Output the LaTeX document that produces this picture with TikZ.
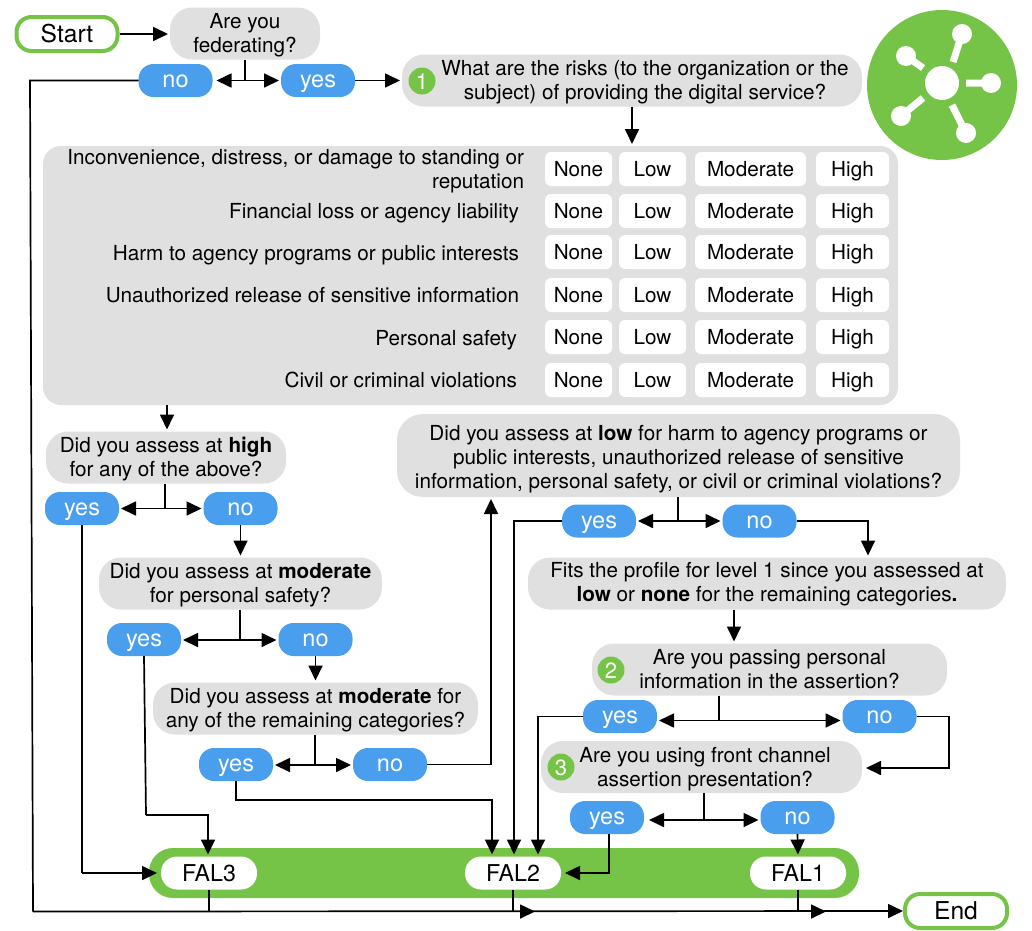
\documentclass[tikz,border=0pt]{standalone}
\usepackage{fontspec}
\setmainfont{TeX Gyre Heros}
\usetikzlibrary{arrows.meta}
\definecolor{fgreen}{HTML}{76C447}
\definecolor{fblue}{HTML}{4A9EEE}
\definecolor{fgray}{HTML}{E0E0E0}
\tikzset{
  every node/.style={inner sep=0pt,outer sep=0pt,text=black,font=\fontsize{20.7}{24}\selectfont},
  ln/.style={line width=1.7pt,draw=black},
  arr/.style={ln,-{Triangle[length=15pt,width=14pt]},shorten >=2pt},
  qbox/.style={fill=fgray,rounded corners=22pt,align=center,minimum height=52pt,text height=38pt,text depth=0pt},
  pill/.style={fill=fblue,rounded corners=15pt,text=white,minimum width=74pt,minimum height=33pt,text height=16pt,text depth=2pt,font=\fontsize{23.5}{26}\selectfont},
  opt/.style={fill=white,rounded corners=6pt,minimum height=34pt,text height=15pt,text depth=0pt},
  rowtext/.style={anchor=east,align=right,text height=15pt,text depth=0pt},
  fal/.style={fill=white,rounded corners=16pt,minimum width=96pt,minimum height=33pt,text height=16pt,text depth=0pt,font=\fontsize{23.2}{26}\selectfont},
  term/.style={draw=fgreen,line width=4pt,fill=white,rounded corners=15pt,text height=17pt,text depth=0pt,font=\fontsize{24.6}{26}\selectfont},
  num/.style={circle,fill=fgreen,text=white,minimum size=27pt,text height=16pt,text depth=0pt,font=\fontsize{22}{26}\selectfont},
}
\begin{document}
\begin{tikzpicture}[x=1pt,y=-1pt]
\useasboundingbox (0,0) rectangle (1032,930);
% icon
\fill[fgreen] (942,85) circle (75);
\fill[white] (942,83) circle (17) (962,34) circle (10) (906,56) circle (10) (991,83) circle (10) (901,116) circle (10) (966,133) circle (10);
\draw[white,line width=7pt] (953,62)--(962,34) (923,68)--(906,56) (966,83)--(991,83) (923,98)--(901,116) (952,105)--(966,133);
% top
\node[term,minimum width=101pt,minimum height=34pt] (start) at (67,34) {Start};
\node[qbox,minimum width=150pt] (fed) at (245,33.5) {Are you\\federating?};
\node[pill] (no0) at (175.5,80.5) {no};
\node[pill] (yes0) at (318,80.5) {yes};
\node[qbox,minimum width=460pt] (q1) at (632,80.5) {};
\node[num] (n1) at (422,81) {1};
\node[align=center,text height=38pt,text depth=0pt] (q1t) at (645,80) {What are the risks (to the organization or the\\subject) of providing the digital service?};
% big panel
\node[fill=fgray,rounded corners=18pt,minimum width=855pt,minimum height=259pt] (panel) at (470.5,275.5) {};
\node[rowtext,text height=38pt] (r1) at (524,169) {Inconvenience, distress, or damage to standing or\\reputation};
\node[rowtext] (r2) at (519,211) {Financial loss or agency liability};
\node[rowtext] (r3) at (519,253) {Harm to agency programs or public interests};
\node[rowtext] (r4) at (519,295) {Unauthorized release of sensitive information};
\node[rowtext] (r5) at (517,338) {Personal safety};
\node[rowtext] (r6) at (517,380) {Civil or criminal violations};
\foreach \yy/\rr in {169/a,211/b,252/c,295/d,337/e,380/f}{
  \node[opt,minimum width=67pt] (none\rr) at (578.5,\yy) {None};
  \node[opt,minimum width=67pt] (low\rr) at (652.5,\yy) {Low};
  \node[opt,minimum width=111pt] (mod\rr) at (750.5,\yy) {Moderate};
  \node[opt,minimum width=73pt] (high\rr) at (852.5,\yy) {High};
}
% left column
\node[qbox,minimum width=240pt] (qh) at (166,457.5) {Did you assess at \textbf{high}\\for any of the above?};
\node[pill] (yh) at (82,508.5) {yes};
\node[pill] (nh) at (240.5,508.5) {no};
\node[qbox,minimum width=283pt] (qm) at (240.5,583.5) {Did you assess at \textbf{moderate}\\for personal safety?};
\node[pill] (ym) at (144,639.5) {yes};
\node[pill] (nm) at (315.5,639.5) {no};
\node[qbox,minimum width=325pt] (qr) at (315.5,708.5) {Did you assess at \textbf{moderate} for\\any of the remaining categories?};
\node[pill] (yr) at (236,764.5) {yes};
\node[pill] (nr) at (390,764.5) {no};
% right column
\node[qbox,minimum width=563pt,minimum height=83pt,rounded corners=26pt,text height=66pt] (ql) at (678.5,455.5) {Did you assess at \textbf{low} for harm to agency programs or\\public interests, unauthorized release of sensitive\\information, personal safety, or civil or criminal violations?};
\node[pill] (yl) at (599,521) {yes};
\node[pill] (nl) at (759.5,521) {no};
\node[qbox,minimum width=478pt,text height=36pt] (qf) at (767,583.5) {Fits the profile for level 1 since you assessed at\\\textbf{low} or \textbf{none} for the remaining categories\textbf{.}};
\node[qbox,minimum width=355pt] (q2) at (769.5,669.5) {Are you passing personal\\information in the assertion?};
\node[num] (n2) at (611,670) {2};
\node[pill] (y2) at (620,716.5) {yes};
\node[pill] (n2b) at (879.5,716.5) {no};
\node[qbox,minimum width=321pt] (q3) at (701.5,767) {};
\node[num] (n3) at (561,767) {3};
\node[align=center,text height=38pt,text depth=0pt] (q3t) at (705,767) {Are you using front channel\\assertion presentation?};
\node[pill] (y3) at (607,817.5) {yes};
\node[pill] (n3b) at (797.5,817.5) {no};
% FAL bar
\node[fill=fgreen,rounded corners=24pt,minimum width=710pt,minimum height=50pt] (bar) at (504,873) {};
\node[fal] (f3) at (209,873) {FAL3};
\node[fal] (f2) at (513,873) {FAL2};
\node[fal] (f1) at (798,873) {FAL1};
\node[term,minimum width=102pt,minimum height=34pt] (end) at (956,911) {End};
% junctions
\coordinate (j0) at (245,80.5);
\coordinate (jh) at (165,508.5);
\coordinate (jm) at (240,640);
\coordinate (jr) at (315,765);
\coordinate (jl) at (678,521);
\coordinate (j2) at (719,720.5);
\coordinate (j3) at (704,820);
\coordinate (lt) at (30,80.5);
\coordinate (lb) at (33,911.5);
% connectors
\draw[arr] (start.east) ++(2,0) -- (fed.west |- start.east);
\draw[ln] (fed.south -| j0) -- (j0);
\draw[arr,shorten >=4pt] (j0) -- (no0.east);
\draw[arr] (j0) -- (yes0.west);
\draw[arr] (yes0.east) -- (q1.west);
\draw[ln] (no0.west) -- (lt) -- (lb);
\draw[arr] (lb) -- (end.west);
\draw[arr] (q1.south -| 632,0) -- (panel.north -| 632,0);
\draw[arr] (panel.south -| 167,0) -- (qh.north -| 167,0);
\draw[ln] (qh.south -| jh) -- (jh);
\draw[arr] (jh) -- (yh.east);
\draw[arr] (jh) -- (nh.west);
\draw[arr] (nh.south) -- (qm.north -| nh.south);
\draw[ln] (yh.south) -- (82,873);
\draw[arr,shorten >=4pt] (82,873) -- (f3.west);
\draw[ln] (qm.south -| jm) -- (jm);
\draw[arr] (jm) -- (ym.east |- jm);
\draw[arr] (jm) -- (nm.west |- jm);
\draw[arr] (nm.south) -- (qr.north -| nm.south);
\coordinate (b1) at (146,815);
\draw[ln] (ym.south) -- (b1);
\draw[arr] (b1) -- (208,815) -- (f3.north -| 208,0);
\draw[ln] (qr.south -| jr) -- (jr);
\draw[arr] (jr) -- (yr.east |- jr);
\draw[arr] (jr) -- (nr.west |- jr);
\draw[arr,shorten >=1pt] (nr.east) -- (491,764.5) -- (491,498);
\draw[arr] (yr.south) -- (236,800) -- (492,800) -- (f2.north -| 492,0);
\draw[ln] (ql.south -| jl) -- (jl);
\draw[arr] (jl) -- (yl.east);
\draw[arr] (jl) -- (nl.west);
\draw[arr] (yl.west) -- (514,521) -- (f2.north -| 514,0);
\draw[arr] (nl.east) -- (868,521) -- (qf.north -| 868,0);
\draw[arr] (qf.south -| 734,0) -- (q2.north -| 734,0);
\draw[ln] (q2.south -| j2) -- (j2);
\draw[arr] (j2) -- (y2.east |- j2);
\draw[arr] (j2) -- (n2b.west |- j2);
\draw[arr] (y2.west) -- (538,716.5) -- (f2.north -| 538,0);
\draw[arr,shorten >=4pt] (n2b.east) -- (949,716.5) -- (949,768) -- (q3.east |- 0,768);
\draw[ln] (q3.south -| j3) -- (j3);
\draw[arr,shorten >=5pt] (j3) -- (y3.east |- j3);
\draw[arr] (j3) -- (n3b.west |- j3);
\draw[arr,shorten >=4pt] (y3.south -| 609,0) -- (609,873) -- (f2.east);
\draw[arr] (n3b.south) -- (f1.north);
\draw[ln] (f3.south) -- (209,911.5) -- (513,911.5);
\draw[ln] (f2.south) -- (513,911.5);
\draw[arr] (513,911.5) -- (537,911.5);
\draw[ln] (f1.south) -- (798,911.5);
\draw[arr] (798,911.5) -- (828,911.5);
\end{tikzpicture}
\end{document}
